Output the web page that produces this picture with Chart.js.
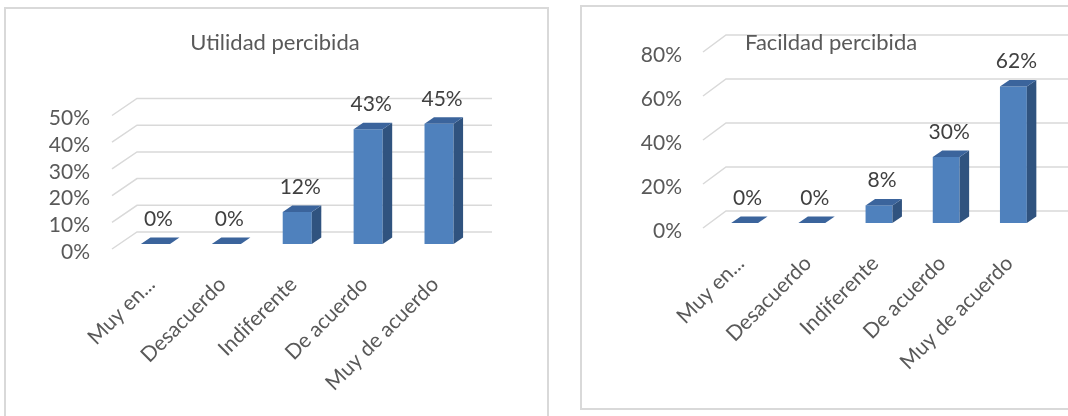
<!DOCTYPE html>
<html>
<head>
<meta charset="utf-8">
<script src="https://cdn.jsdelivr.net/npm/chart.js@4.4.0/dist/chart.umd.min.js"></script>
<style>
  body { margin: 0; background: #fff; width: 1068px; height: 416px; overflow: hidden; position: relative; }
  .box { position: absolute; border: 2px solid #d9d9d9; box-sizing: border-box; }
  #b1 { left: 4px; top: 7px; width: 545px; height: 430px; }
  #b2 { left: 580px; top: 5px; width: 500px; height: 405px; }
  canvas { position: absolute; top: 0; }
  #c1 { left: 0; }
  #c2 { left: 560px; }
</style>
</head>
<body>
<div class="box" id="b1"></div>
<div class="box" id="b2"></div>
<canvas id="c1" width="560" height="416"></canvas>
<canvas id="c2" width="508" height="416"></canvas>
<script>
var categories = ["Muy en...", "Desacuerdo", "Indiferente", "De acuerdo", "Muy de acuerdo"];
var utilidadValues = [0, 0, 0.12, 0.43, 0.45];
var facilidadValues = [0, 0, 0.08, 0.30, 0.62];
var utilidadMax = 0.5, utilidadStep = 0.1;
var facilidadMax = 0.8, facilidadStep = 0.2;

var FONT = "Lato, 'Open Sans', sans-serif";
var TEXT = "#595959";

function pct(v) { return Math.round(v * 100) + "%"; }

// fake 3D: back wall gridlines, bar top/side faces, value labels, title
var box3d = {
    id: "box3d",
    beforeDatasetsDraw: function (chart, args, o) {
        var ctx = chart.ctx, a = chart.chartArea, y = chart.scales.y;
        ctx.save();
        ctx.strokeStyle = "#d9d9d9";
        ctx.lineWidth = 1.5;
        y.ticks.forEach(function (t) {
            var py = y.getPixelForValue(t.value);
            ctx.beginPath();
            ctx.moveTo(a.left - 8, py + 5);
            ctx.lineTo(a.left + o.wallLeft, py - 12);
            ctx.lineTo(a.right + o.wallRight, py - 12);
            ctx.stroke();
        });
        ctx.restore();
    },
    afterDatasetsDraw: function (chart, args, o) {
        var ctx = chart.ctx, dx = 9.5, dy = -6.5;
        var data = chart.data.datasets[0].data;
        ctx.save();
        chart.getDatasetMeta(0).data.forEach(function (bar, i) {
            var l = bar.x - bar.width / 2, r = bar.x + bar.width / 2, t = bar.y, b = bar.base;
            ctx.fillStyle = "#30537f";
            ctx.beginPath();
            ctx.moveTo(r, t); ctx.lineTo(r + dx, t + dy); ctx.lineTo(r + dx, b + dy); ctx.lineTo(r, b);
            ctx.closePath(); ctx.fill();
            ctx.fillStyle = "#3b649c";
            ctx.beginPath();
            ctx.moveTo(l, t); ctx.lineTo(l + dx, t + dy); ctx.lineTo(r + dx, t + dy); ctx.lineTo(r, t);
            ctx.closePath(); ctx.fill();
            ctx.fillStyle = "#404040";
            ctx.font = "21px " + FONT;
            ctx.textAlign = "center";
            ctx.textBaseline = "middle";
            ctx.fillText(pct(data[i]), bar.x + 3, t - 25);
        });
        ctx.fillStyle = TEXT;
        ctx.font = "22px " + FONT;
        ctx.textAlign = o.titleAlign;
        ctx.textBaseline = "middle";
        ctx.fillText(o.title, o.titleX, o.titleY);
        ctx.restore();
    }
};

function makeChart(id, values, max, step, lay) {
    return new Chart(document.getElementById(id), {
        type: "bar",
        data: {
            labels: categories,
            datasets: [{
                data: values,
                backgroundColor: "#4f81bd",
                barPercentage: lay.barPct,
                categoryPercentage: 1
            }]
        },
        options: {
            responsive: false,
            animation: false,
            layout: { padding: { left: 0, top: lay.top, right: lay.right, bottom: 0 } },
            plugins: {
                legend: { display: false },
                tooltip: { enabled: false },
                box3d: lay.box
            },
            scales: {
                x: {
                    grid: { display: false, drawTicks: false },
                    border: { display: false },
                    ticks: {
                        minRotation: 45, maxRotation: 45, autoSkip: false,
                        padding: lay.xPad, labelOffset: -4,
                        color: TEXT, font: { family: FONT, size: 21 }
                    },
                    afterFit: function (s) { s.height = lay.xHeight; }
                },
                y: {
                    min: 0, max: max,
                    grid: { display: false, drawTicks: false },
                    border: { display: false },
                    ticks: {
                        stepSize: step, autoSkip: false, padding: lay.yPad, labelOffset: 8,
                        color: TEXT, font: { family: FONT, size: 21 },
                        callback: function (v) { return pct(v); }
                    },
                    afterFit: function (s) { s.width = lay.yWidth; }
                }
            }
        },
        plugins: [box3d]
    });
}

makeChart("c1", utilidadValues, utilidadMax, utilidadStep, {
    top: 110.5, right: 85.5, yWidth: 120, xHeight: 172, yPad: 30, xPad: 28, barPct: 0.41,
    box: { wallLeft: 17, wallRight: 17.5, title: "Utilidad percibida", titleX: 275, titleY: 43, titleAlign: "center" }
});

makeChart("c2", facilidadValues, facilidadMax, facilidadStep, {
    top: 47, right: 21, yWidth: 151, xHeight: 193, yPad: 29, xPad: 28, barPct: 0.40,
    box: { wallLeft: 15, wallRight: 30, title: "Facildad percibida", titleX: 185, titleY: 43, titleAlign: "left" }
});
</script>
</body>
</html>
